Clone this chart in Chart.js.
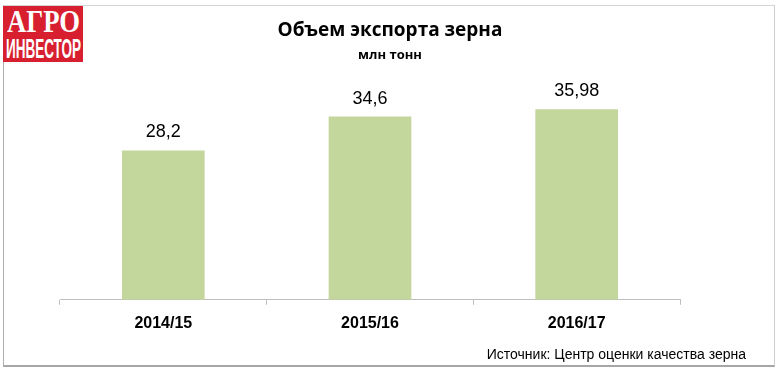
<!DOCTYPE html>
<html>
<head>
<meta charset="utf-8">
<script src="https://cdn.jsdelivr.net/npm/chart.js@4.4.1/dist/chart.umd.min.js"></script>
<style>
  html, body { margin: 0; padding: 0; background: #fff; }
  #wrap { position: relative; width: 780px; height: 373px; overflow: hidden; font-family: "Liberation Sans", Arial, sans-serif; }
  #frame { position: absolute; left: 3px; top: 5px; width: 770px; height: 359px;
    border-top: 1px solid #d4d4d4; border-right: 1px solid #cfcfcf;
    border-left: 1px solid #b0b0b0; border-bottom: 2px solid #a6a6a6; }
  #logo { position: absolute; left: 3px; top: 6px; width: 80px; height: 56px; background: #d71f30; color: #fff; overflow: hidden; }
  #logo .l1 { position: absolute; left: 4px; top: 0px; font: bold 31px "Liberation Serif", "DejaVu Serif", serif;
    line-height: 31px; transform: scaleX(0.86); transform-origin: left top; white-space: nowrap; }
  #logo .l2 { position: absolute; left: 3px; top: 30px; font: bold 27px "Liberation Sans", sans-serif;
    line-height: 26px; transform: scaleX(0.5); transform-origin: left top; white-space: nowrap; }
  #title { position: absolute; left: 0; width: 780px; top: 16px; text-align: center;
    font: bold 19px "Open Sans", "Noto Sans", sans-serif; color: #000; }
  #subtitle { position: absolute; left: 0; width: 780px; top: 45px; text-align: center;
    font: bold 13px "Open Sans", "Noto Sans", sans-serif; color: #000; }
  #source { position: absolute; right: 34px; top: 346px; font: 14px "Liberation Sans", Arial, sans-serif; color: #000; }
  canvas { position: absolute; left: 0; top: 0; }
</style>
</head>
<body>
<div id="wrap">
  <div id="frame"></div>
  <canvas id="chart" width="780" height="373"></canvas>
  <div id="logo"><div class="l1">АГРО</div><div class="l2">ИНВЕСТОР</div></div>
  <div id="title">Объем экспорта зерна</div>
  <div id="subtitle">млн тонн</div>
  <div id="source">Источник: Центр оценки качества зерна</div>
</div>
<script>
const seasons = ['2014/15', '2015/16', '2016/17'];
const exportVolume = [28.2, 34.6, 35.98];
const valueLabels = ['28,2', '34,6', '35,98'];

const barLabels = {
  id: 'barLabels',
  afterDatasetsDraw(chart) {
    const ctx = chart.ctx;
    const meta = chart.getDatasetMeta(0);
    ctx.save();
    ctx.fillStyle = '#000';
    ctx.font = '18px "Liberation Sans", Arial, sans-serif';
    ctx.textAlign = 'center';
    ctx.textBaseline = 'middle';
    meta.data.forEach((bar, i) => {
      ctx.fillText(valueLabels[i], bar.x, bar.y - 18);
    });
    ctx.restore();
  }
};

new Chart(document.getElementById('chart').getContext('2d'), {
  type: 'bar',
  data: {
    labels: seasons,
    datasets: [{
      data: exportVolume,
      backgroundColor: '#c3d69b',
      borderWidth: 0,
      categoryPercentage: 1,
      barPercentage: 0.4
    }]
  },
  options: {
    responsive: false,
    animation: false,
    layout: { padding: { left: 60, right: 100, top: 88, bottom: 31 } },
    plugins: { legend: { display: false }, tooltip: { enabled: false } },
    scales: {
      x: {
        grid: { offset: true, drawOnChartArea: false, drawTicks: true, tickLength: 5, color: '#bfbfbf' },
        border: { display: true, color: '#bfbfbf', width: 1 },
        ticks: { color: '#000', padding: 9, font: { family: '"Liberation Sans", Arial, sans-serif', size: 16, weight: 'bold' } }
      },
      y: { display: false, min: 0, max: 40 }
    }
  },
  plugins: [barLabels]
});
</script>
</body>
</html>
